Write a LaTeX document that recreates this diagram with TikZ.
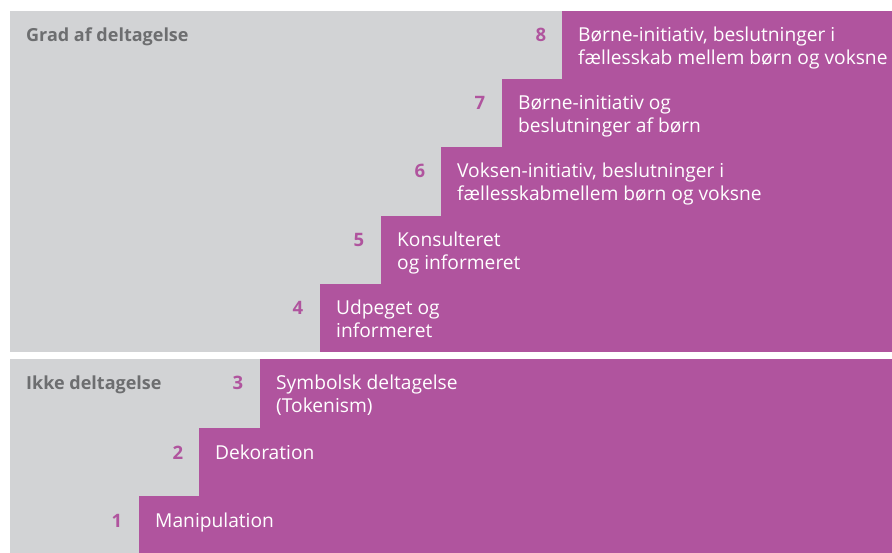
\documentclass[tikz,border=0pt]{standalone}
\usepackage{fontspec}
\setmainfont{Open Sans}
\definecolor{pur}{RGB}{176,84,158}
\definecolor{gry}{RGB}{210,211,213}
\definecolor{hd}{RGB}{109,110,112}
\begin{document}
\begin{tikzpicture}[x=1pt,y=-1pt,
  panel/.style={fill=gry,draw=none},
  stepbox/.style={fill=pur,draw=none},
  lbl/.style={anchor=base west,inner sep=0pt,align=left,text=white,font=\fontsize{19.2}{22.5}\selectfont},
  num/.style={anchor=base,inner sep=0pt,text=pur,font=\bfseries\fontsize{18.5}{22}\selectfont},
  head/.style={anchor=base west,inner sep=0pt,text=hd,font=\bfseries\fontsize{18}{20}\selectfont}]
\useasboundingbox (0,0) rectangle (892,553);
\fill[white] (0,0) rectangle (892,553);
\path[panel] (10,11) rectangle (892,352);
\path[panel] (10,359) rectangle (892,553);
% steps upper
\path[stepbox] (562,11) rectangle (892,352);
\path[stepbox] (502,79) rectangle (892,352);
\path[stepbox] (441,147) rectangle (892,352);
\path[stepbox] (381,216) rectangle (892,352);
\path[stepbox] (320,284) rectangle (892,352);
% steps lower
\path[stepbox] (260,359) rectangle (892,553);
\path[stepbox] (199,428) rectangle (892,553);
\path[stepbox] (139,496) rectangle (892,553);
% headings
\node[head] (h1) at (26,42) {Grad af deltagelse};
\node[head] (h2) at (26,390) {Ikke deltagelse};
% numbers
\node[num] (n8) at (541,42) {8};
\node[num] (n7) at (480,110) {7};
\node[num] (n6) at (420,178) {6};
\node[num] (n5) at (359,247) {5};
\node[num] (n4) at (298,315) {4};
\node[num] (n3) at (238,390) {3};
\node[num] (n2) at (178,459) {2};
\node[num] (n1) at (117,527) {1};
% labels (base anchor = last line)
\node[lbl] (t8) at (578,64.5) {Børne-initiativ, beslutninger i\\fællesskab mellem børn og voksne};
\node[lbl] (t7) at (518,132.5) {Børne-initiativ og\\beslutninger af børn};
\node[lbl] (t6) at (457,200.5) {Voksen-initiativ, beslutninger i\\fællesskabmellem børn og voksne};
\node[lbl] (t5) at (397,269.5) {Konsulteret\\og informeret};
\node[lbl] (t4) at (336,337.5) {Udpeget og\\informeret};
\node[lbl] (t3) at (276,412.5) {Symbolsk deltagelse\\(Tokenism)};
\node[lbl] (t2) at (215,459) {Dekoration};
\node[lbl] (t1) at (155,527) {Manipulation};
\end{tikzpicture}
\end{document}
